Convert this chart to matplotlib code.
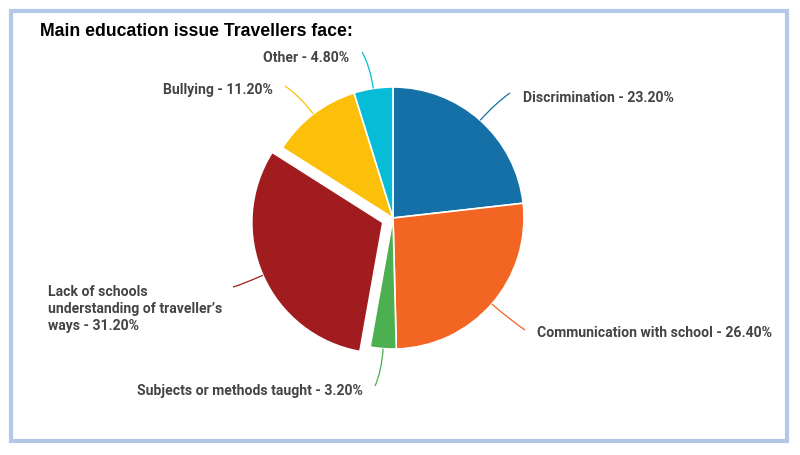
import numpy as np
import matplotlib
matplotlib.use("Agg")
from matplotlib import pyplot as plt
from matplotlib.path import Path
from matplotlib.patches import PathPatch, Rectangle

# data
labels = ["Discrimination", "Communication with school", "Subjects or methods taught",
          "Lack of schools\nunderstanding of traveller\u2019s\nways", "Bullying", "Other"]
values = [23.2, 26.4, 3.2, 31.2, 11.2, 4.8]
colors = ["#1470a6", "#f26522", "#4caf50", "#a01c1f", "#fcc00a", "#06bcd6"]
explode = [0, 0, 0, 0.085, 0, 0]

# layout in pixels (y measured from top)
H = 456
center = (393, H - 219)
radius = 131
leader_end = [(510, 94), (525, 331), (375, 387), (233, 288), (285, 87), (362, 53)]
label_pos = [(523, 98, "left"), (537, 333, "left"), (363, 391, "right"),
             (48, 309, "left"), (273, 90, "right"), (349, 58, "right")]

fig = plt.figure(figsize=(8, 4.56), dpi=100)
ax = fig.add_axes([0, 0, 1, 1])

# pie's explode is an absolute offset, so scale by the radius
wedges, _ = ax.pie(values, colors=colors, explode=[e * radius for e in explode],
                   startangle=90, counterclock=False, center=center, radius=radius,
                   wedgeprops=dict(edgecolor="white", linewidth=1.2))
ax.set_xlim(0, 800)
ax.set_ylim(0, H)
ax.set_aspect("equal")
ax.axis("off")

# frame round the chart
fig.patches.append(Rectangle((11 / 800, (H - 442) / H), 776 / 800, 430 / H, transform=fig.transFigure,
                             fill=False, edgecolor="#b4c7e7", linewidth=3))

for w, lab, v, col, end, pos in zip(wedges, labels, values, colors, leader_end, label_pos):
    mid = np.deg2rad((w.theta1 + w.theta2) / 2)
    cx, cy = w.center
    start = (cx + radius * np.cos(mid), cy + radius * np.sin(mid))
    ctrl = (cx + radius * 1.18 * np.cos(mid), cy + radius * 1.18 * np.sin(mid))
    path = Path([start, ctrl, (end[0], H - end[1])], [Path.MOVETO, Path.CURVE3, Path.CURVE3])
    ax.add_patch(PathPatch(path, fill=False, edgecolor=col, linewidth=0.9))
    ax.text(pos[0], H - pos[1], f"{lab} - {v:.2f}%", ha=pos[2], va="center",
            fontsize=10.1, family="Roboto", fontweight="bold", color="#444444",
            linespacing=1.25)

fig.text(40 / 800, 1 - 31 / H, "Main education issue Travellers face:", ha="left", va="center",
         fontsize=12.7, family="Liberation Sans", fontweight="bold", color="black")

fig.savefig("out.png", dpi=100, facecolor="white")
